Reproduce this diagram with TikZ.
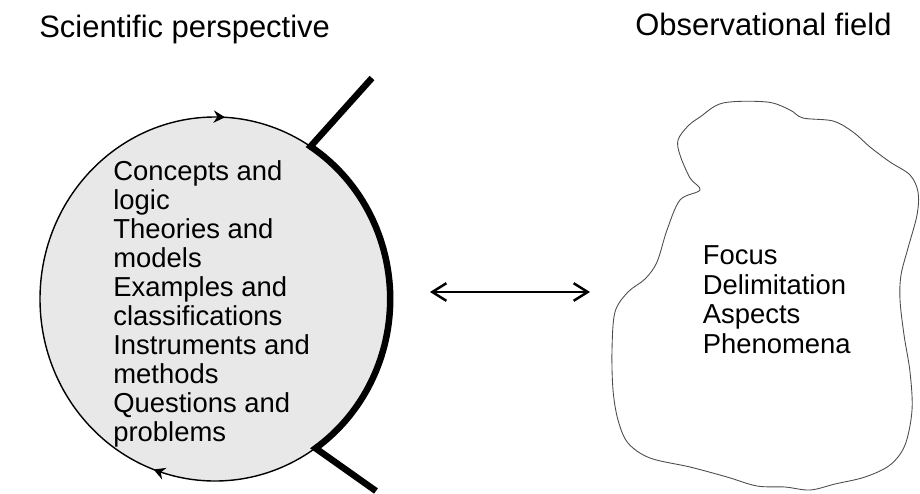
\documentclass[tikz,border=0pt]{standalone}
\usepackage{fontspec}
\setmainfont{Liberation Sans}
\usetikzlibrary{arrows.meta,decorations.markings}

\begin{document}
\begin{tikzpicture}[
    heading/.style={anchor=base west, inner sep=0pt, font=\fontsize{17.6}{20}\selectfont},
    listing/.style={anchor=north west, inner sep=0pt, align=left},
    rim/.style={line width=3.7pt, line join=miter},
    cycleline/.style={line width=0.8pt, postaction={decorate}, decoration={markings,
        mark=at position 0.306 with {\arrow{Stealth[length=6.5pt,width=7pt]}},
        mark=at position 0.759 with {\arrow{Stealth[length=6.5pt,width=7pt]}}}},
    twoway/.style={{Straight Barb[length=8pt,width=10pt]}-{Straight Barb[length=8pt,width=10pt]}, line width=1.4pt}
]
    \useasboundingbox (0,0) rectangle (18.4,9.86);

    % headings
    \node[heading] (persp) at (0.78,9.12) {Scientific perspective};
    \node[heading] (field) at (12.70,9.16) {Observational field};

    % perspective circle
    \fill[gray!18] (4.30,3.88) ellipse (3.5 and 3.64);
    \draw[cycleline] (7.80,3.88) arc[start angle=0, end angle=-360, x radius=3.5, y radius=3.64];
    \coordinate (rimTop) at (6.21,6.93);
    \coordinate (rimBot) at (6.31,0.90);
    \draw[rim] (7.44,8.30) -- (rimTop) arc[start angle=57, end angle=-55, x radius=3.5, y radius=3.64] -- (7.52,0.04);
    \node[listing, font=\fontsize{15.6}{16.5}\selectfont] (tools) at (2.26,6.66)
        {Concepts and\\logic\\Theories and\\models\\Examples and\\classifications\\Instruments and\\methods\\Questions and\\problems};

    % observational field
    \draw[black!70, line width=0.5pt] plot[smooth cycle, tension=0.55] coordinates {
        (14.46,7.80) (15.34,7.82) (15.80,7.66) (16.06,7.50) (16.66,7.44) (17.06,7.22)
        (17.40,6.92) (17.80,6.62) (18.20,6.36) (18.36,6.02) (18.34,5.56) (18.16,4.90)
        (18.02,4.36) (18.00,3.86) (18.08,3.16) (18.20,2.42) (18.24,1.66) (18.10,0.96)
        (17.80,0.56) (17.30,0.32) (16.70,0.18) (16.20,0.06) (15.70,0.12) (15.14,0.14)
        (14.54,0.32) (13.80,0.52) (13.00,0.70) (12.56,1.00) (12.36,1.46) (12.26,2.06)
        (12.24,2.86) (12.30,3.62) (12.56,4.02) (12.90,4.28) (13.14,4.62) (13.34,5.26)
        (13.60,5.86) (14.00,6.06) (13.80,6.30) (13.60,6.76) (13.56,7.06) (13.76,7.34)
        (14.00,7.52)};
    \node[listing, font=\fontsize{15.6}{17}\selectfont] (aspects) at (14.05,4.96)
        {Focus\\Delimitation\\Aspects\\Phenomena};

    % interplay
    \coordinate (gapL) at (8.60,4.02);
    \coordinate (gapR) at (11.80,4.02);
    \draw[twoway] (gapL) -- (gapR);
\end{tikzpicture}
\end{document}
